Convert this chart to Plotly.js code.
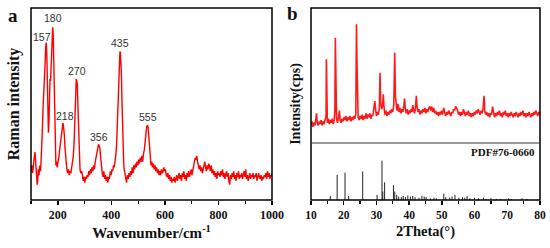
<!DOCTYPE html>
<html>
<head>
<meta charset="utf-8">
<script src="https://cdn.plot.ly/plotly-3.0.1.min.js"></script>
<style>html,body{margin:0;padding:0;background:#fff;}#chart{width:550px;height:248px;}</style>
</head>
<body>
<div id="chart"></div>
<script>
// ---- Panel a: Raman spectrum ----
const ramanShift = [100,103,106,109,112,115,117,119,121,123,125,127,130,133,136,139,142,145,148,151,153,155,157,159,161,163,165,167,169,171,173,175,177,179,181,183,185,187,189,191,193,195,198,201,204,207,210,213,216,219,221,223,225,227,229,231,234,237,240,243,246,249,252,255,258,261,263,265,267,269,271,273,275,277,279,281,283,286,289,292,295,298,301,304,307,310,313,316,319,322,325,328,331,334,337,340,343,346,349,352,355,357,359,361,363,366,369,372,375,378,381,384,387,390,393,396,399,402,405,408,411,414,417,420,423,426,428,430,432,434,436,438,440,442,444,446,448,451,454,457,460,463,466,469,472,475,478,481,484,487,490,493,496,499,502,505,508,511,514,517,520,523,526,529,532,535,537,539,541,543,545,548,551,554,557,560,563,566,569,572,575,578,581,584,587,590,593,596,599,602,605,608,611,614,617,620,623,626,629,632,635,638,641,644,647,650,653,656,659,662,665,668,671,674,677,680,683,686,689,692,695,698,701,704,707,710,713,716,719,722,725,728,731,734,737,740,743,746,749,752,755,758,761,764,767,770,773,776,779,782,785,788,791,794,797,800,803,806,809,812,815,818,821,824,827,830,833,836,839,842,845,848,851,854,857,860,863,866,869,872,875,878,881,884,887,890,893,896,899,902,905,908,911,914,917,920,923,926,929,932,935,938,941,944,947,950,953,956,959,962,965,968,971,974,977,980,983,986,989,992,995,998,1000];
const ramanIntensity = [15,18,14,20,22,25,21,17,12,8,10,16,13,18,15,22,35,48,55,62,72,80,82,76,58,42,35,40,55,63,62,70,82,89,90,86,70,48,30,22,18,20,17,20,22,26,30,35,38,40,39,37,33,27,22,18,16,14,16,13,15,14,17,19,23,30,42,55,61,63,62,60,50,38,27,20,16,14,15,13,10,12,9,12,11,13,12,15,13,16,14,17,15,18,16,20,22,25,27,29,28,27,24,20,16,14,12,15,11,13,10,12,9,12,11,15,13,16,15,18,17,20,24,30,42,55,66,74,77,77,73,64,50,36,26,20,16,14,12,9,13,11,14,12,15,13,17,14,18,16,19,17,20,18,21,19,22,20,23,20,24,26,30,35,38,39,38,35,30,25,20,18,20,17,19,16,18,15,17,14,16,13,15,13,16,14,15,17,15,16,13,12,14,11,13,10,12,9,11,10,12,9,11,13,10,12,14,11,13,10,14,12,15,11,13,10,14,12,15,12,14,16,13,15,17,19,22,21,23,20,18,16,18,15,17,14,16,18,20,17,15,18,16,19,17,15,18,14,16,13,15,12,14,11,15,13,14,12,15,13,16,12,14,11,13,15,12,14,10,8,13,11,14,12,15,11,13,10,14,12,15,11,13,12,14,11,13,15,12,16,11,13,10,12,14,11,13,12,14,11,13,12,14,10,13,14,12,11,13,10,12,11,13,12,14,11,15,12,14,11,13,12,14];
const ramanPeakLabels = ['157','180','218','270','356','435','555'];
const ramanLabelX = [140,183,227,273,353,433,536];
const ramanLabelY = [85,95,44,67,33,82,43];
const ramanTicks = [200,400,600,800,1000];

// ---- Panel b: XRD pattern ----
const xrdTheta = [10.0,10.3,10.6,10.9,11.2,11.5,11.7,11.9,12.2,12.5,12.8,13.1,13.4,13.7,14.0,14.3,14.6,14.7,14.8,15.0,15.3,15.6,15.9,16.2,16.5,16.8,17.1,17.3,17.45,17.6,17.8,18.1,18.4,18.7,18.9,19.2,19.5,19.8,20.1,20.4,20.7,21.0,21.3,21.6,21.9,22.2,22.5,22.8,23.1,23.4,23.7,23.9,24.05,24.2,24.4,24.7,25.0,25.3,25.6,25.9,26.2,26.5,26.8,27.1,27.4,27.7,28.0,28.3,28.6,28.9,29.2,29.5,29.7,30.0,30.3,30.6,30.9,31.1,31.3,31.6,31.9,32.1,32.3,32.6,32.9,33.2,33.5,33.8,34.1,34.4,34.7,35.0,35.3,35.6,35.8,36.0,36.3,36.6,36.9,37.2,37.5,37.8,38.1,38.4,38.6,38.8,39.1,39.4,39.7,40.0,40.3,40.6,40.9,41.1,41.3,41.6,41.9,42.2,42.4,42.7,43.0,43.3,43.6,43.9,44.2,44.5,44.8,45.1,45.4,45.7,46.0,46.3,46.6,46.9,47.2,47.5,47.8,48.1,48.4,48.7,49.0,49.3,49.6,49.9,50.2,50.6,50.9,51.2,51.5,51.8,52.1,52.4,52.7,53.0,53.3,53.6,53.9,54.2,54.5,54.8,55.1,55.4,55.7,56.0,56.3,56.6,56.9,57.2,57.5,57.8,58.1,58.4,58.7,59.0,59.3,59.6,59.9,60.2,60.5,60.8,61.1,61.4,61.7,62.0,62.3,62.6,62.9,63.1,63.4,63.7,64.0,64.3,64.6,64.9,65.2,65.5,65.8,66.1,66.4,66.7,67.0,67.3,67.6,67.9,68.2,68.5,68.8,69.1,69.4,69.7,70.0,70.3,70.6,70.9,71.2,71.5,71.8,72.1,72.4,72.7,73.0,73.3,73.6,73.9,74.2,74.5,74.8,75.1,75.4,75.7,76.0,76.3,76.6,76.9,77.2,77.5,77.8,78.1,78.4,78.7,79.0,79.3,79.6,80.0];
const xrdIntensity = [13,16,12,15,13,17,22,15,13,16,14,17,13,16,14,17,20,62,22,15,18,14,17,15,18,14,17,24,78,30,18,15,19,24,17,15,18,16,19,17,20,16,19,17,20,16,19,17,20,18,22,88,60,25,19,17,20,18,21,17,20,18,22,18,21,19,22,18,21,20,24,31,26,20,23,21,26,52,30,25,28,36,27,21,24,20,23,21,24,22,25,23,28,67,35,27,24,29,23,26,22,25,23,28,33,26,22,25,21,24,22,25,23,28,24,22,25,35,27,23,25,21,24,22,25,23,26,22,25,23,26,27,24,27,23,26,22,24,21,23,20,23,21,24,21,26,22,20,23,21,24,22,20,23,22,25,24,27,26,24,21,23,20,23,21,25,22,20,23,21,24,20,22,19,22,20,23,21,24,22,25,23,21,24,22,26,35,24,21,23,20,22,19,22,21,27,22,19,22,20,23,21,24,20,22,19,23,21,24,20,22,19,22,20,23,21,19,22,20,23,21,19,22,20,23,21,24,20,22,19,22,20,23,21,19,22,20,23,21,24,22,20,23,21];

// ---- Panel b: reference card PDF#76-0660 ----
const pdfTheta = [15.9,18.0,20.4,21.5,25.8,30.2,31.7,31.95,32.5,35.2,35.6,36.2,36.8,37.6,38.2,38.9,39.6,40.4,41.1,41.8,43.0,43.9,44.6,45.2,46.5,47.6,48.3,50.6,51.2,52.4,53.1,54.0,55.2,56.3,57.0,57.7,58.6,60.0,61.2,62.7,63.5,65.0,66.8,68.0,70.4,71.2,74.5,76.0];
const pdfIntensity = [7,44,48,7,50,9,69,15,31,26,15,9,6,5,7,5,8,6,7,5,4,7,6,5,3,4,3,11,5,4,6,9,4,5,4,7,3,4,3,4,2,3,2,2,3,2,3,2];
const xrdTicks = [10,20,30,40,50,60,70,80];

const serif = "'Liberation Serif', 'Times New Roman', serif";
const sans = "'Liberation Sans', Arial, sans-serif";

// stick lines for the reference card, built from the data arrays
const stickX = [], stickY = [];
pdfTheta.forEach((t,i)=>{ stickX.push(t,t,null); stickY.push(0,pdfIntensity[i],null); });

const traces = [
  {x: ramanShift, y: ramanIntensity, xaxis:'x', yaxis:'y', type:'scatter', mode:'lines',
   line:{color:'#ff0000', width:1.4}, hoverinfo:'skip'},
  {x: stickX, y: stickY, xaxis:'x2', yaxis:'y2', type:'scatter', mode:'lines',
   line:{color:'#222', width:1}, hoverinfo:'skip', connectgaps:false},
  {x: xrdTheta, y: xrdIntensity, xaxis:'x3', yaxis:'y3', type:'scatter', mode:'lines',
   line:{color:'#ff1a1a', width:1.6}, hoverinfo:'skip'}
];

const domA = [31/550, 272/550];
const domB = [311/550, 540/550];
const yBottom = 1 - 200/248, yTop = 1 - 8/248, yDiv = 1 - 143/248;

const tickFontA = {family: serif, size: 12, color:'#111'};
const tickFontB = {family: serif, size: 11.5, color:'#111'};

const annotations = ramanPeakLabels.map((t,i)=>({
  text:t, x: ramanLabelX[i], y: ramanLabelY[i], xref:'x', yref:'y', showarrow:false,
  font:{family:sans, size:10.5, color:'#333'}, xanchor:'center', yanchor:'middle'
}));
annotations.push({text:'<b>a</b>', xref:'paper', yref:'paper', x:13/550, y:1-15/248, showarrow:false,
  font:{family:serif, size:19, color:'#111'}, xanchor:'center', yanchor:'middle'});
annotations.push({text:'<b>b</b>', xref:'paper', yref:'paper', x:292/550, y:1-14/248, showarrow:false,
  font:{family:serif, size:19, color:'#111'}, xanchor:'center', yanchor:'middle'});
annotations.push({text:'<b>PDF#76-0660</b>', xref:'paper', yref:'paper', x:537/550, y:1-152/248, showarrow:false,
  font:{family:serif, size:11, color:'#111'}, xanchor:'right', yanchor:'middle'});

const shapes = [
  {type:'rect', xref:'paper', yref:'paper', x0:domA[0], x1:domA[1], y0:yBottom, y1:yTop, line:{color:'#000', width:1.5}},
  {type:'rect', xref:'paper', yref:'paper', x0:domB[0], x1:domB[1], y0:yBottom, y1:yTop, line:{color:'#000', width:1.5}},
  {type:'line', xref:'paper', yref:'paper', x0:domB[0], x1:domB[1], y0:yDiv, y1:yDiv, line:{color:'#333', width:1}}
];

const layout = {
  width:550, height:248, margin:{l:0,r:0,t:0,b:0}, paper_bgcolor:'#fff', plot_bgcolor:'rgba(0,0,0,0)',
  showlegend:false,
  xaxis:{domain:domA, anchor:'y', range:[100,1000], tickmode:'array', tickvals:ramanTicks, ticktext:ramanTicks.map(v=>'<b>'+v+'</b>'),
    ticks:'outside', ticklen:4, tickwidth:1.5, tickcolor:'#000',
    minor:{tickvals:[100,300,500,700,900], ticks:'outside', ticklen:2.5, tickwidth:1.2, tickcolor:'#000'},
    showgrid:false, zeroline:false, showline:false, tickfont:tickFontA, automargin:false,
    title:{text:'<b>Wavenumber/cm<sup>-1</sup></b>', font:{family:serif, size:15, color:'#111'}, standoff:6}},
  yaxis:{domain:[yBottom,yTop], anchor:'x', range:[0,100], showticklabels:false, ticks:'', showgrid:false, zeroline:false, showline:false, automargin:false,
    title:{text:'<b>Raman intensity</b>', font:{family:serif, size:16, color:'#111'}, standoff:6}},
  xaxis2:{domain:domB, anchor:'y2', range:[10,80], tickmode:'array', tickvals:xrdTicks, ticktext:xrdTicks.map(v=>'<b>'+v+'</b>'),
    ticks:'outside', ticklen:4, tickwidth:1.5, tickcolor:'#000',
    minor:{dtick:5, tick0:0, ticks:'outside', ticklen:2.5, tickwidth:1.2, tickcolor:'#000'},
    showgrid:false, zeroline:false, showline:false, tickfont:tickFontB, automargin:false,
    title:{text:'<b>2Theta(°)</b>', font:{family:serif, size:14.5, color:'#111'}, standoff:6}},
  yaxis2:{domain:[yBottom,yTop], anchor:'x2', range:[0,337], showticklabels:false, ticks:'', showgrid:false, zeroline:false, showline:false, automargin:false,
    title:{text:'<b>Intensity(cps)</b>', font:{family:serif, size:14, color:'#111'}, standoff:6}},
  xaxis3:{domain:domB, anchor:'y3', range:[10,80], visible:false},
  yaxis3:{domain:[yDiv,yTop], anchor:'x3', range:[0,100], visible:false},
  annotations: annotations,
  shapes: shapes
};

Plotly.newPlot('chart', traces, layout, {staticPlot:true, displayModeBar:false});
</script>
</body>
</html>
